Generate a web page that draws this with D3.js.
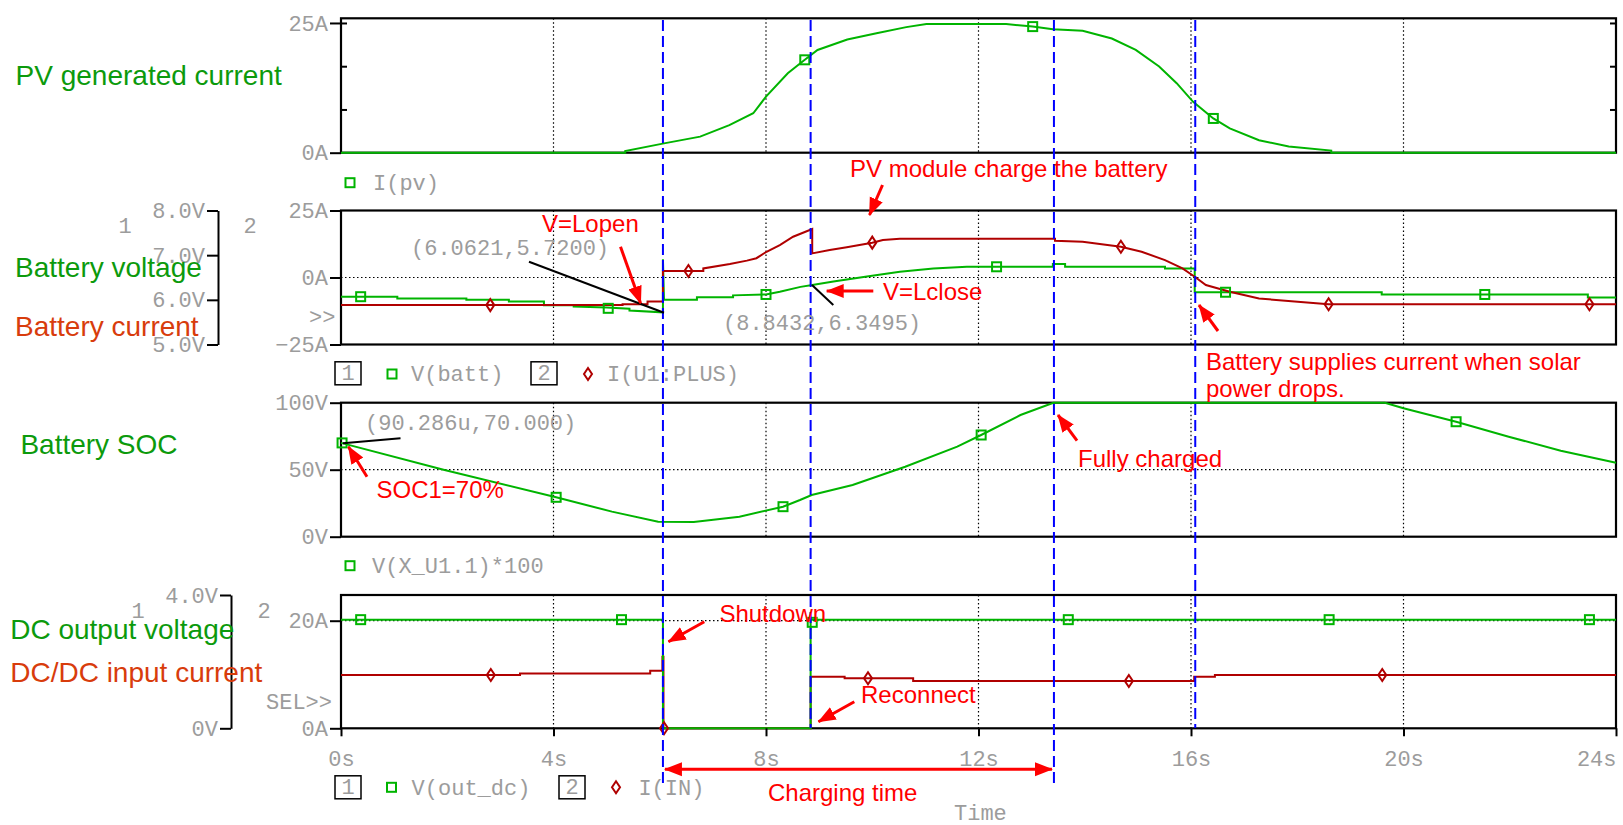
<!DOCTYPE html>
<html>
<head>
<meta charset="utf-8">
<script src="https://cdn.jsdelivr.net/npm/d3@7"></script>
<style>
  body { margin: 0; background: #fff; }
  .mono { font-family: "Liberation Mono", "DejaVu Sans Mono", monospace; font-size: 22px; fill: #9c9c9c; }
  .lbl { font-family: "Liberation Sans", Arial, sans-serif; font-size: 28px; }
  .note { font-family: "Liberation Sans", Arial, sans-serif; font-size: 24px; fill: #f00; }
</style>
</head>
<body>
<svg id="chart" width="1623" height="825"></svg>
<script>
// PSpice style 4-panel transient plot: PV current, battery V/I, SOC, DC output

// ---- data (time in s) ----
const timeTicks = [0, 4, 8, 12, 16, 20, 24];
const timeLabels = ["0s", "4s", "8s", "12s", "16s", "20s", "24s"];
const cursorTimes = [6.06, 8.84, 13.42, 16.08];

const pvCurrent = [[0,0],[5.35,0],[5.35,0.3],[6.08,1.8],[6.76,3.1],[7.31,5.3],[7.76,7.6],[8.0,10.8],
  [8.41,15.3],[8.73,17.9],[8.97,19.8],[9.53,21.8],[10.08,23.0],[10.64,24.2],[11.02,24.8],[12.52,24.8],
  [13.02,24.3],[13.4,23.8],[13.96,23.5],[14.51,22.0],[14.96,19.8],[15.4,16.6],[15.73,13.4],[16.04,9.8],
  [16.42,6.6],[16.73,4.7],[17.28,2.4],[17.84,1.2],[18.64,0.4],[18.64,0],[24,0]];
const pvMarks = [[8.73,17.9],[13.02,24.3],[16.42,6.6]];

const battVolt = [[0,6.07],[1.06,6.07],[1.06,6.03],[2.36,6.03],[2.36,6.0],[3.16,6.0],[3.16,5.96],[3.82,5.96],
  [3.82,5.88],[4.38,5.88],[4.38,5.85],[5.0,5.83],[5.43,5.80],[5.43,5.76],[6.06,5.72],[6.06,6.91],[6.08,6.0],
  [6.70,6.0],[6.70,6.06],[7.38,6.06],[7.38,6.1],[8.0,6.12],[8.26,6.18],[8.65,6.29],[8.87,6.33],[9.27,6.41],
  [9.9,6.52],[10.52,6.63],[11.15,6.70],[11.78,6.74],[13.4,6.74],[13.4,6.80],[13.63,6.80],[13.63,6.74],
  [15.51,6.74],[15.51,6.70],[16.07,6.70],[16.07,6.17],[19.59,6.17],[19.59,6.12],[23.47,6.12],[23.47,6.05],[24,6.05]];
const battVoltMarks = [[0.37,6.07],[5.03,5.81],[8.0,6.12],[12.34,6.74],[16.65,6.17],[21.53,6.12]];

const battCurrent = [[0,-10.3],[5.3,-10.3],[5.3,-10.0],[5.77,-10.0],[5.77,-9.0],[6.06,-9.0],[6.06,2.4],
  [6.82,2.4],[6.82,3.4],[7.32,5.0],[7.64,6.3],[7.82,7.2],[8.01,9.6],[8.26,12.1],[8.51,15.2],[8.87,18.1],
  [8.87,9.0],[9.2,10.3],[9.52,11.3],[10.0,13.0],[10.2,14.0],[10.52,14.5],[13.44,14.5],[13.44,13.7],
  [13.96,13.3],[14.68,11.5],[15.07,9.6],[15.51,6.5],[15.84,3.4],[16.07,0.3],[16.28,-2.8],[16.73,-5.3],
  [17.28,-7.8],[17.95,-9.0],[18.59,-10.0],[24,-10.0]];
const battCurrentMarks = [[2.81,-10.3],[6.54,2.4],[10.0,13.0],[14.68,11.5],[18.59,-10.0],[23.5,-10.0]];

const soc = [[0,70],[1.93,50],[4.05,29.4],[5.1,18.7],[5.97,11.2],[6.64,11.0],[7.5,14.9],[8.32,22.4],
  [8.64,27.4],[8.86,31.1],[9.63,38.6],[10.62,52.2],[11.6,67.2],[12.05,75.9],[12.79,90.8],[13.41,100],
  [19.65,100],[20.0,95.8],[20.99,85.8],[21.98,74.6],[22.96,64.2],[24,55.2]];
const socMarks = [[0.02,70],[4.05,29.4],[8.32,22.4],[12.05,75.9],[20.99,85.8]];

const outVolt = [[0,3.26],[6.06,3.26],[6.06,0],[8.84,0],[8.84,3.26],[24,3.26]];
const outVoltMarks = [[0.37,3.26],[5.28,3.26],[8.87,3.18],[13.69,3.26],[18.6,3.26],[23.5,3.26]];

const inCurrent = [[0,9.9],[3.37,9.9],[3.37,10.2],[5.82,10.2],[5.82,10.7],[6.05,10.7],[6.05,13.3],[6.07,13.3],
  [6.07,0],[8.84,0],[8.84,9.6],[9.48,9.6],[9.48,9.3],[10.77,9.3],[10.77,8.8],[16.06,8.8],[16.06,9.6],
  [16.45,9.6],[16.45,9.9],[24,9.9]];
const inCurrentMarks = [[2.82,9.9],[6.08,0],[9.92,9.3],[14.83,8.8],[19.6,9.9]];

const sideLabels = ["PV generated current", "Battery voltage", "Battery current", "Battery SOC",
  "DC output voltage", "DC/DC input current"];
const noteTexts = ["PV module charge the battery", "V=Lopen", "V=Lclose", "Battery supplies current when solar",
  "power drops.", "Fully charged", "SOC1=70%", "Shutdown", "Reconnect", "Charging time"];
const cursorTexts = ["(6.0621,5.7200)", "(8.8432,6.3495)", "(90.286u,70.000)"];

// ---- drawing ----
const GREEN = "#00b400", RED = "#b00000", TXTGREEN = "#0c9a0c", TXTRED = "#d83c0c";
const svg = d3.select("#chart");
const x = d3.scaleLinear().domain([0, 24]).range([341, 1616]);

const y1 = d3.scaleLinear().domain([0, 25.9]).range([152.7, 18.3]);
const y2i = d3.scaleLinear().domain([-25, 25]).range([344.5, 210.5]);
const y2v = d3.scaleLinear().domain([5, 8]).range([344.5, 210.5]);
const y3 = d3.scaleLinear().domain([0, 100]).range([536.7, 402.7]);
const y4i = d3.scaleLinear().domain([0, 24.78]).range([728.3, 595]);
const y4v = d3.scaleLinear().domain([0, 4]).range([728.3, 595]);

const defs = svg.append("defs");
defs.append("marker").attr("id", "head")
  .attr("markerUnits", "userSpaceOnUse").attr("markerWidth", 18).attr("markerHeight", 16)
  .attr("refX", 17).attr("refY", 8).attr("orient", "auto-start-reverse")
  .append("path").attr("d", "M0,1 L18,8 L0,15 Z").attr("fill", "#f00");

function styleAxis(g) {
  g.attr("font-family", "Liberation Mono, DejaVu Sans Mono, monospace").attr("font-size", 22);
  g.selectAll("text").attr("fill", "#9c9c9c");
  g.selectAll("line").attr("stroke", "#000").attr("stroke-width", 2);
  g.select(".domain").attr("stroke", "#000").attr("stroke-width", 2);
}

function panel(y, hGrid) {
  const [bottom, top] = y.range();
  const g = svg.append("g");
  // dotted grid
  g.selectAll(".vg").data(timeTicks.slice(1, -1)).join("line")
    .attr("x1", d => x(d)).attr("x2", d => x(d)).attr("y1", top).attr("y2", bottom)
    .attr("stroke", "#000").attr("stroke-width", 1.2).attr("stroke-dasharray", "1.5,2.5");
  g.selectAll(".hg").data(hGrid).join("line")
    .attr("x1", x(0)).attr("x2", x(24)).attr("y1", d => y(d)).attr("y2", d => y(d))
    .attr("stroke", "#000").attr("stroke-width", 1.2).attr("stroke-dasharray", "1.5,2.5");
  g.append("rect").attr("x", x(0)).attr("y", top).attr("width", x(24) - x(0)).attr("height", bottom - top)
    .attr("fill", "none").attr("stroke", "#000").attr("stroke-width", 2.2);
  return g;
}

function leftAxis(px, y, vals, fmt, size) {
  const g = svg.append("g").attr("transform", `translate(${px},0)`)
    .call(d3.axisLeft(y).tickValues(vals).tickFormat(fmt).tickSize(size).tickSizeOuter(0).tickPadding(2));
  styleAxis(g);
  return g;
}

function series(data, y, color) {
  svg.append("path").datum(data)
    .attr("d", d3.line().x(d => x(d[0])).y(d => y(d[1])))
    .attr("fill", "none").attr("stroke", color).attr("stroke-width", 2);
}

function squares(data, y) {
  svg.append("g").selectAll("rect").data(data).join("rect")
    .attr("x", d => x(d[0]) - 4.5).attr("y", d => y(d[1]) - 4.5).attr("width", 9).attr("height", 9)
    .attr("fill", "none").attr("stroke", GREEN).attr("stroke-width", 2);
}

function diamonds(data, y) {
  svg.append("g").selectAll("path").data(data).join("path")
    .attr("transform", d => `translate(${x(d[0])},${y(d[1])})`)
    .attr("d", "M0,-6 L4,0 L0,6 L-4,0 Z")
    .attr("fill", "none").attr("stroke", RED).attr("stroke-width", 2);
}

// panel 1: PV current
panel(y1, []);
const a1 = leftAxis(x(0), y1, [0, 25], d => d + "A", 11);
a1.select(".domain").remove();
svg.append("g").attr("transform", `translate(${x(0)},0)`)
  .call(d3.axisLeft(y1).tickValues([25 / 3, 50 / 3, 25]).tickFormat("").tickSize(-6).tickSizeOuter(0))
  .call(styleAxis).select(".domain").remove();
svg.append("g").attr("transform", `translate(${x(24)},0)`)
  .call(d3.axisRight(y1).tickValues([25 / 3, 50 / 3, 25]).tickFormat("").tickSize(-6).tickSizeOuter(0))
  .call(styleAxis).select(".domain").remove();
series(pvCurrent, y1, GREEN);
squares(pvMarks, y1);

// panel 2: battery voltage / current
panel(y2i, [0]);
leftAxis(x(0), y2i, [-25, 0, 25], d => (d < 0 ? "\u221225" : d) + "A", 11).select(".domain").remove();
leftAxis(218, y2v, [5, 6, 7, 8], d => d.toFixed(1) + "V", 11);
series(battVolt, y2v, GREEN);
series(battCurrent, y2i, RED);
squares(battVoltMarks, y2v);
diamonds(battCurrentMarks, y2i);

// panel 3: SOC
panel(y3, [50]);
leftAxis(x(0), y3, [0, 50, 100], d => d + "V", 11).select(".domain").remove();
series(soc, y3, GREEN);
squares(socMarks, y3);

// panel 4: DC output voltage / DC-DC input current
panel(y4i, [20]);
leftAxis(x(0), y4i, [0, 20], d => d + "A", 11).select(".domain").remove();
leftAxis(231, y4v, [0, 4], d => (d === 0 ? "0V" : d.toFixed(1) + "V"), 11);
series(inCurrent, y4i, RED);
series(outVolt, y4v, GREEN);
squares(outVoltMarks, y4v);
diamonds(inCurrentMarks, y4i);

const xa = svg.append("g").attr("transform", `translate(0,${y4i(0)})`)
  .call(d3.axisBottom(x).tickValues(timeTicks).tickFormat((d, i) => timeLabels[i]).tickSize(8).tickPadding(14));
styleAxis(xa);
xa.select(".domain").remove();
xa.selectAll(".tick:last-of-type text").attr("text-anchor", "end").attr("x", 0);

// cursor lines
cursorTimes.forEach((t, i) => {
  svg.append("line").attr("x1", x(t)).attr("x2", x(t)).attr("y1", 20).attr("y2", i % 2 === 0 ? 783 : 728)
    .attr("stroke", "#0000ff").attr("stroke-width", 2).attr("stroke-dasharray", "11,5");
});

// mono texts around the axes and legends
const mono = (t, px, py, anchor) => svg.append("text").attr("class", "mono")
  .attr("x", px).attr("y", py).attr("text-anchor", anchor || "start").text(t);
mono("1", 125, 233, "middle"); mono("2", 250, 233, "middle");
mono(">>", 309, 324);
mono("1", 138, 618, "middle"); mono("2", 264, 618, "middle");
mono("SEL>>", 266, 709);
mono("Time", 954, 820);

function legendBox(num, px, py) {
  svg.append("rect").attr("x", px).attr("y", py - 11.5).attr("width", 26).attr("height", 23)
    .attr("fill", "none").attr("stroke", "#000").attr("stroke-width", 1.5);
  mono(num, px + 13, py + 7, "middle");
}
function legendSquare(px, py) {
  svg.append("rect").attr("x", px - 4.5).attr("y", py - 4.5).attr("width", 9).attr("height", 9)
    .attr("fill", "none").attr("stroke", GREEN).attr("stroke-width", 2);
}
function legendDiamond(px, py) {
  svg.append("path").attr("transform", `translate(${px},${py})`).attr("d", "M0,-6 L4,0 L0,6 L-4,0 Z")
    .attr("fill", "none").attr("stroke", RED).attr("stroke-width", 2);
}
legendSquare(350, 182.7); mono("I(pv)", 373, 190);
legendBox("1", 335, 373.3); legendSquare(392, 374); mono("V(batt)", 411, 381);
legendBox("2", 531, 373.3); legendDiamond(588, 374); mono("I(U1:PLUS)", 607, 381);
legendSquare(350, 565.7); mono("V(X_U1.1)*100", 372, 573);
legendBox("1", 335, 787.3); legendSquare(391.5, 787.3); mono("V(out_dc)", 411.6, 795);
legendBox("2", 559, 787.3); legendDiamond(616, 787.3); mono("I(IN)", 638.4, 795);

// cursor read-outs with leader lines
[[529, 261.7, 664, 312.7], [812, 285, 833.3, 305], [342.9, 443.3, 400.5, 438.3]].forEach(l => {
  svg.append("line").attr("x1", l[0]).attr("y1", l[1]).attr("x2", l[2]).attr("y2", l[3])
    .attr("stroke", "#000").attr("stroke-width", 2);
});
mono(cursorTexts[0], 411, 255); mono(cursorTexts[1], 723, 330); mono(cursorTexts[2], 365, 430);

// side labels
const sidePos = [[15.6, 85, TXTGREEN], [15, 276.7, TXTGREEN], [15, 336, TXTRED], [20.4, 454, TXTGREEN],
  [10.2, 639, TXTGREEN], [10.2, 682, TXTRED]];
sideLabels.forEach((t, i) => svg.append("text").attr("class", "lbl")
  .attr("x", sidePos[i][0]).attr("y", sidePos[i][1]).attr("fill", sidePos[i][2]).text(t));

// red notes and arrows
const notePos = [[850, 177], [542, 231.7], [883, 300], [1206, 370], [1206, 397], [1078, 467],
  [376.5, 498], [719.4, 622], [861, 703], [768, 801]];
noteTexts.forEach((t, i) => svg.append("text").attr("class", "note")
  .attr("x", notePos[i][0]).attr("y", notePos[i][1]).text(t));

const arrows = [[882.5, 185, 869.5, 215], [620.5, 246.7, 640.6, 303.3], [873.3, 291, 826.7, 291],
  [1218, 331, 1199, 305], [1077, 440.7, 1058, 415], [367, 476.7, 348.4, 446.7],
  [704.3, 621.7, 668.5, 641.7], [854.3, 701.7, 818.5, 721.7]];
arrows.forEach(a => svg.append("line").attr("x1", a[0]).attr("y1", a[1]).attr("x2", a[2]).attr("y2", a[3])
  .attr("stroke", "#f00").attr("stroke-width", 3).attr("marker-end", "url(#head)"));
svg.append("line").attr("x1", x(cursorTimes[0]) + 2).attr("x2", x(cursorTimes[2]) - 2)
  .attr("y1", 769.3).attr("y2", 769.3).attr("stroke", "#f00").attr("stroke-width", 3)
  .attr("marker-start", "url(#head)").attr("marker-end", "url(#head)");
</script>
</body>
</html>
